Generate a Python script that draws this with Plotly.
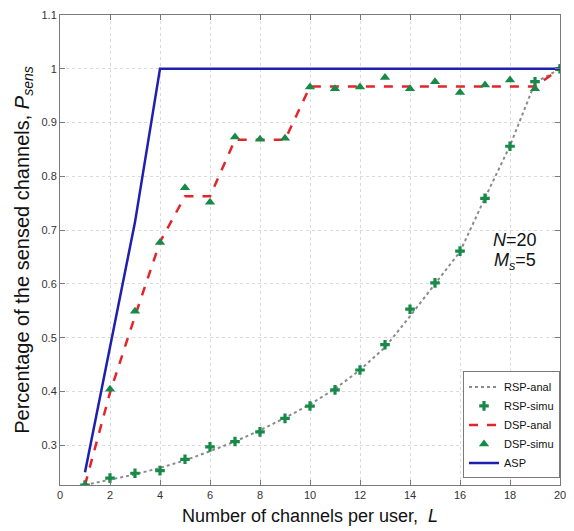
import plotly.graph_objects as go

# Number of channels per user
L = list(range(1, 21))

# Random sensing policy: analytical curve and simulated points
rsp_anal = [0.2262, 0.236, 0.246, 0.258, 0.272, 0.289, 0.307, 0.328, 0.351, 0.376,
            0.405, 0.440, 0.482, 0.540, 0.600, 0.660, 0.760, 0.857, 0.974, 1.0]
rsp_simu = [0.2262, 0.239, 0.248, 0.253, 0.274, 0.297, 0.307, 0.325, 0.350, 0.373,
            0.403, 0.440, 0.487, 0.553, 0.602, 0.661, 0.759, 0.856, 0.976, 1.0]

# Distributed sensing policy: analytical curve and simulated points
dsp_anal = [0.2262, 0.398, 0.540, 0.678, 0.763, 0.763, 0.868, 0.868, 0.868, 0.967,
            0.967, 0.967, 0.967, 0.967, 0.967, 0.967, 0.967, 0.967, 0.967, 1.0]
dsp_simu = [0.2262, 0.404, 0.549, 0.677, 0.779, 0.752, 0.873, 0.869, 0.871, 0.966,
            0.963, 0.966, 0.984, 0.963, 0.976, 0.956, 0.970, 0.979, 0.963, 1.0]

# Assigned sensing policy
asp = [0.25, 0.48, 0.715, 1.0, 1.0, 1.0, 1.0, 1.0, 1.0, 1.0,
       1.0, 1.0, 1.0, 1.0, 1.0, 1.0, 1.0, 1.0, 1.0, 1.0]

x_ticks = list(range(0, 21, 2))
y_ticks = [0.3, 0.4, 0.5, 0.6, 0.7, 0.8, 0.9, 1.0, 1.1]
y_tick_text = ["0.3", "0.4", "0.5", "0.6", "0.7", "0.8", "0.9", "1", "1.1"]

GREEN = "#178a48"
RED = "#e5242a"
BLUE = "#1f1fb0"
GRAY = "#8a8a8a"
FONT = "Liberation Sans, Arial, sans-serif"

fig = go.Figure()
fig.add_trace(go.Scatter(x=L, y=rsp_anal, mode="lines", name="RSP-anal",
                         line=dict(color=GRAY, width=2, dash="dot")))
fig.add_trace(go.Scatter(x=L, y=rsp_simu, mode="markers", name="RSP-simu",
                         marker=dict(symbol="cross", size=8, color=GREEN)))
fig.add_trace(go.Scatter(x=L, y=dsp_anal, mode="lines", name="DSP-anal",
                         line=dict(color=RED, width=2.5, dash="dash")))
fig.add_trace(go.Scatter(x=L, y=dsp_simu, mode="markers", name="DSP-simu",
                         marker=dict(symbol="triangle-up", size=9, color=GREEN)))
fig.add_trace(go.Scatter(x=L, y=asp, mode="lines", name="ASP",
                         line=dict(color=BLUE, width=2.5)))

axis_common = dict(
    showline=True, linecolor="#7a7a7a", linewidth=1, mirror="ticks",
    ticks="inside", ticklen=5, tickcolor="#7a7a7a",
    showgrid=True, gridcolor="#dadada", griddash="dot", gridwidth=1,
    zeroline=False, tickfont=dict(family=FONT, size=11, color="#333333"),
)

fig.update_xaxes(range=[0, 20], tickvals=x_ticks,
                 title=dict(text="Number of channels per user,  <i>L</i>",
                            font=dict(family=FONT, size=18, color="#111111"),
                            standoff=9),
                 **axis_common)
fig.update_yaxes(range=[0.2262, 1.1], tickvals=y_ticks, ticktext=y_tick_text,
                 title=dict(text="Percentage of the sensed channels, <i>P</i><sub><i>sens</i></sub>",
                            font=dict(family=FONT, size=20, color="#111111"),
                            standoff=6),
                 **axis_common)

fig.add_annotation(x=18.2, y=0.681, xref="x", yref="y", showarrow=False,
                   text="<i>N</i>=20", font=dict(family=FONT, size=18, color="#111111"))
fig.add_annotation(x=18.2, y=0.641, xref="x", yref="y", showarrow=False,
                   text="<i>M</i><sub><i>s</i></sub>=5",
                   font=dict(family=FONT, size=18, color="#111111"))

fig.update_layout(
    width=574, height=531,
    margin=dict(l=60, r=8, t=15, b=45),
    paper_bgcolor="white", plot_bgcolor="white",
    showlegend=True,
    legend=dict(x=1.0, y=0.014, xanchor="right", yanchor="bottom",
                bgcolor="white", bordercolor="#7a7a7a", borderwidth=1,
                font=dict(family=FONT, size=11, color="#111111"),
                itemwidth=30, tracegroupgap=0),
)

fig.write_html("out.html")
